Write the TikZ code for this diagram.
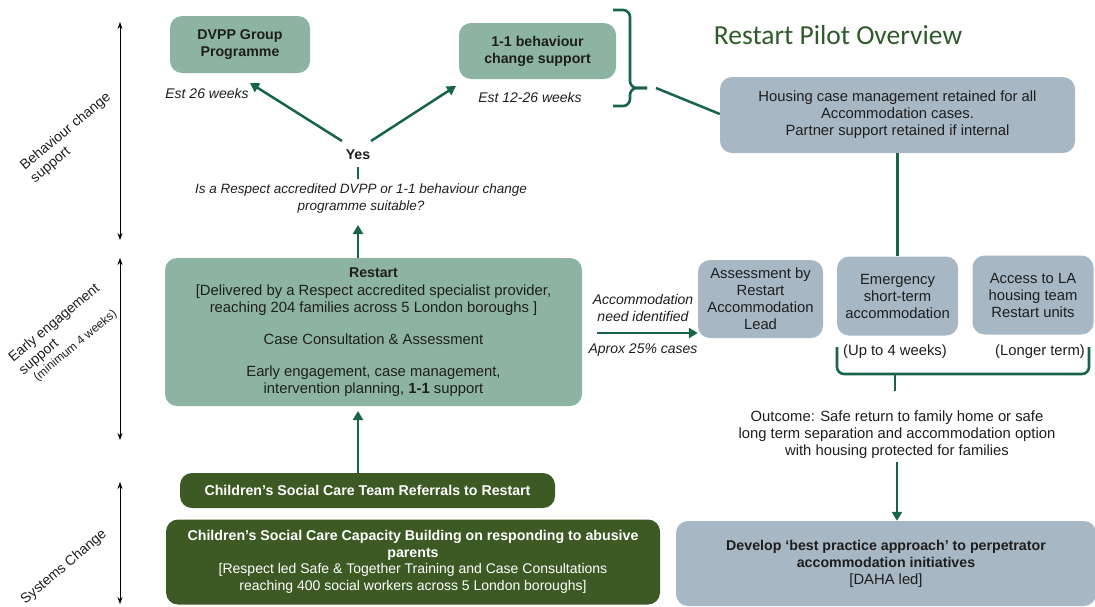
\documentclass[tikz,border=0pt]{standalone}
\usepackage{fontspec}
\setmainfont{Liberation Sans}
\newfontfamily\titlefont{Carlito}
\usetikzlibrary{arrows.meta}
\definecolor{sage}{HTML}{8DB4A3}
\definecolor{greyb}{HTML}{A7B7C3}
\definecolor{darkg}{HTML}{3D5A24}
\definecolor{cgreen}{HTML}{17644A}
\definecolor{titleg}{HTML}{2F5A2A}
\definecolor{txt}{HTML}{1E1E1E}
\newcommand\bodyfont{\fontsize{14.8}{17}\selectfont}
\newcommand\boldfont{\fontsize{14.2}{17}\selectfont\bfseries}
\newcommand\itfont{\fontsize{14}{17}\selectfont\itshape}
\newcommand\sidefont{\fontsize{14}{16}\selectfont}
\tikzset{
  box/.style={rounded corners=12pt, align=center, inner sep=0pt, font=\bodyfont, text=txt},
  sagebox/.style={box, fill=sage},
  greybox/.style={box, fill=greyb},
  darkbox/.style={box, fill=darkg, text=white},
  lbl/.style={font=\bodyfont, text=txt, align=center, inner sep=0pt},
  conn/.style={draw=cgreen, line width=2.5pt, -{Triangle[length=9pt,width=10pt]}},
  plainline/.style={draw=cgreen, line width=2.5pt},
  bracestyle/.style={draw=cgreen, line width=2.6pt, rounded corners=7pt},
  dimarrow/.style={draw=black, line width=0.7pt, {Stealth[length=7pt,width=5pt]}-{Stealth[length=7pt,width=5pt]}},
  side/.style={font=\sidefont, text=txt, align=left, rotate=40, inner sep=0pt},
}
\begin{document}
\begin{tikzpicture}[x=1pt,y=-1pt]
\useasboundingbox (0,0) rectangle (1095,606);

% left dimension arrows
\coordinate (d1a) at (120,22);  \coordinate (d1b) at (120,240);
\coordinate (d2a) at (120,258); \coordinate (d2b) at (120,440);
\coordinate (d3a) at (120,482); \coordinate (d3b) at (120,604);
\draw[dimarrow] (d1a) -- (d1b);
\draw[dimarrow] (d2a) -- (d2b);
\draw[dimarrow] (d3a) -- (d3b);

\node[side] (sideA) at (71,138) {Behaviour change\\support};
\node[side] (sideB) at (64,335) {Early engagement\\support\\[-2pt]{\fontsize{12}{12}\selectfont\ \ (minimum 4 weeks)}};
\node[side] (sideC) at (64,567) {Systems Change};

% title
\node[font=\titlefont\fontsize{27.5}{32}\selectfont, text=titleg, inner sep=0pt] (title) at (838,35) {Restart Pilot Overview};

% top boxes
\node[sagebox, minimum width=140pt, minimum height=57pt, font=\boldfont] (dvpp) at (240,44.5) {DVPP Group\\Programme};
\node[sagebox, minimum width=157pt, minimum height=56pt, font=\boldfont] (oneone) at (537.5,51) {1-1 behaviour\\change support};
\node[lbl, font=\itfont] (est26) at (207,93) {Est 26 weeks};
\node[lbl, font=\itfont] (est1226) at (530,97) {Est 12-26 weeks};

\node[lbl, font=\boldfont] (yes) at (358,155) {Yes};
\node[lbl, font=\fontsize{13.5}{17}\selectfont\itshape] (question) at (361,199) {Is a Respect accredited DVPP or 1-1 behaviour change\\programme suitable?};

% housing
\node[greybox, minimum width=355pt, minimum height=76pt] (housing) at (897.5,115) {Housing case management retained for all\\Accommodation cases.\\Partner support retained if internal};

% restart
\node[sagebox, minimum width=417pt, minimum height=148pt] (restart) at (373.5,332) {{\boldfont Restart}\\[1pt]
{[}Delivered by a Respect accredited specialist provider,\\
reaching 204 families across 5 London boroughs ]\\[15pt]
Case Consultation \& Assessment\\[15pt]
Early engagement, case management,\\
intervention planning, \textbf{1-1} support};

% accommodation label
\node[lbl, font=\itfont] (accomlbl) at (643,307.5) {Accommodation\\need identified};
\node[lbl, font=\itfont] (aprox) at (643,350) {Aprox 25\% cases};

% right boxes
\node[greybox, minimum width=125pt, minimum height=78pt] (assess) at (760.5,299) {Assessment by\\Restart\\Accommodation\\Lead};
\node[greybox, minimum width=121pt, minimum height=79pt] (emerg) at (897.5,296) {Emergency\\short-term\\accommodation};
\node[greybox, minimum width=121pt, minimum height=79pt] (access) at (1033,295) {Access to LA\\housing team\\Restart units};
\node[lbl] (upto) at (895,352) {(Up to 4 weeks)};
\node[lbl] (longer) at (1040,352) {(Longer term)};

\node[lbl] (outcome) at (897,435) {Outcome: Safe return to family home or safe\\long term separation and accommodation option\\with housing protected for families};

\node[greybox, minimum width=420pt, minimum height=85pt] (develop) at (886,563.5) {{\boldfont Develop ‘best practice approach’ to perpetrator}\\{\boldfont accommodation initiatives}\\{[}DAHA led{]}};

% bottom left
\node[darkbox, minimum width=375pt, minimum height=35pt, font=\boldfont] (referrals) at (367.5,490.5) {Children’s Social Care Team Referrals to Restart};
\node[darkbox, minimum width=494pt, minimum height=85pt, font=\fontsize{14}{16.5}\selectfont] (capacity) at (413,562) {{\boldfont Children’s Social Care Capacity Building on responding to abusive}\\{\boldfont parents}\\
{[}Respect led Safe \& Together Training and Case Consultations\\
reaching 400 social workers across 5 London boroughs{]}};

% connectors
\coordinate (ydl) at (342,141);
\coordinate (dvt) at (250,83);
\coordinate (ydr) at (371,141);
\coordinate (oot) at (456,86);
\draw[conn] (ydl) -- (dvt);
\draw[conn] (ydr) -- (oot);
\coordinate (yb) at (358,167);
\coordinate (qt) at (358,179);
\draw[plainline] (yb) -- (qt);
\coordinate (qb) at (358,225);
\draw[conn] (restart.north -| qb) -- (qb);
\coordinate (rb) at (358,411);
\draw[conn] (referrals.north -| rb) -- (rb);

% top brace
\coordinate (bt1) at (613,10);
\coordinate (bt2) at (630,10);
\coordinate (btip) at (647,88);
\coordinate (bt3) at (630,106);
\coordinate (bt4) at (613,106);
\draw[bracestyle] (bt1) -- (bt2) |- (btip);
\draw[bracestyle] (bt4) -- (bt3) |- (btip);
\coordinate (hl) at (656,88);
\draw[plainline] (hl) -- (housing.west |- 0,114);

\draw[plainline] (housing.south -| emerg.north) -- (emerg.north);

\coordinate (aa) at (597,333);
\draw[conn] (aa) -- (aa -| assess.west);

% bottom brace
\coordinate (bb1) at (837,347);
\coordinate (bb2) at (1089,347);
\coordinate (bmid) at (895,374);
\coordinate (btip2) at (895,391);
\draw[bracestyle] (bb1) |- (bmid);
\draw[bracestyle] (bb2) |- (bmid);
\draw[plainline] (bmid) -- (btip2);

\coordinate (ob) at (897,462);
\draw[conn] (ob) -- (develop.north -| ob);
\end{tikzpicture}
\end{document}
